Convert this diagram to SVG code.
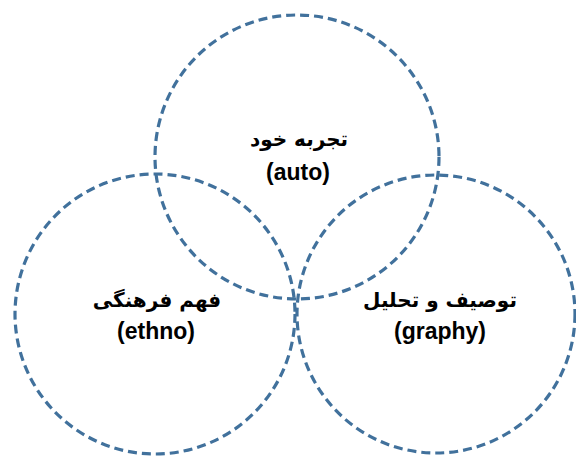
<svg xmlns="http://www.w3.org/2000/svg" width="576" height="456" viewBox="0 0 576 456">
<style>
.c{fill:none;stroke:#41719C;stroke-width:3.2;stroke-dasharray:9 5}
.fa{font-family:"DejaVu Sans",sans-serif;font-weight:bold;font-size:20px;fill:#000;text-anchor:middle}
.en{font-family:"Liberation Sans",Arial,sans-serif;font-weight:bold;font-size:23px;fill:#000;text-anchor:middle}
</style>
<rect width="576" height="456" fill="#fff"/>
<g id="auto">
<circle class="c" cx="297" cy="157" r="142"/>
<text class="fa" x="299" y="146" direction="rtl">تجربه خود</text>
<text class="en" x="298" y="180">(auto)</text>
</g>
<g id="ethno">
<circle class="c" cx="155" cy="314" r="140"/>
<text class="fa" x="157" y="307" direction="rtl">فهم فرهنگی</text>
<text class="en" x="156" y="339">(ethno)</text>
</g>
<g id="graphy">
<circle class="c" cx="436" cy="314" r="139"/>
<text class="fa" x="440" y="307" direction="rtl">توصیف و تحلیل</text>
<text class="en" x="440" y="339">(graphy)</text>
</g>
<g id="connectors"></g>
</svg>
